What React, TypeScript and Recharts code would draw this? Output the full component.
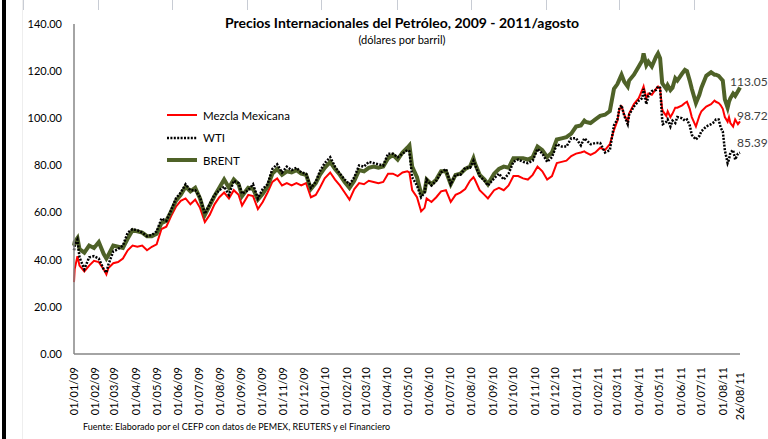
import { LineChart, Line, XAxis, YAxis } from "recharts";

const FONT = "Lato, 'Open Sans', sans-serif";

const dates = [
  "2009-01-01", "2009-01-02", "2009-01-06", "2009-01-09", "2009-01-16", "2009-01-23", "2009-01-30",
  "2009-02-06", "2009-02-13", "2009-02-17", "2009-02-20", "2009-02-27",
  "2009-03-06", "2009-03-13", "2009-03-20", "2009-03-27",
  "2009-04-03", "2009-04-10", "2009-04-17", "2009-04-24",
  "2009-05-01", "2009-05-08", "2009-05-15", "2009-05-22", "2009-05-29",
  "2009-06-05", "2009-06-12", "2009-06-19", "2009-06-26",
  "2009-07-03", "2009-07-10", "2009-07-17", "2009-07-24", "2009-07-31",
  "2009-08-07", "2009-08-14", "2009-08-21", "2009-08-28",
  "2009-09-02", "2009-09-11", "2009-09-18", "2009-09-25",
  "2009-10-02", "2009-10-09", "2009-10-16", "2009-10-23", "2009-10-30",
  "2009-11-06", "2009-11-13", "2009-11-20", "2009-11-27",
  "2009-12-04", "2009-12-11", "2009-12-18", "2009-12-24", "2009-12-31",
  "2010-01-08", "2010-01-15", "2010-01-22", "2010-01-29",
  "2010-02-05", "2010-02-12", "2010-02-19", "2010-02-26",
  "2010-03-05", "2010-03-12", "2010-03-19", "2010-03-26",
  "2010-04-02", "2010-04-09", "2010-04-16", "2010-04-23", "2010-04-30",
  "2010-05-03", "2010-05-07", "2010-05-14", "2010-05-20", "2010-05-25", "2010-05-28",
  "2010-06-04", "2010-06-11", "2010-06-18", "2010-06-25",
  "2010-07-02", "2010-07-09", "2010-07-16", "2010-07-23", "2010-07-30",
  "2010-08-04", "2010-08-06", "2010-08-13", "2010-08-20", "2010-08-25",
  "2010-09-03", "2010-09-10", "2010-09-17", "2010-09-24",
  "2010-10-01", "2010-10-08", "2010-10-15", "2010-10-22", "2010-10-29",
  "2010-11-05", "2010-11-12", "2010-11-19", "2010-11-26",
  "2010-12-03", "2010-12-10", "2010-12-17", "2010-12-24", "2010-12-31",
  "2011-01-07", "2011-01-12", "2011-01-14", "2011-01-21", "2011-01-28",
  "2011-02-04", "2011-02-11", "2011-02-18", "2011-02-24",
  "2011-03-01", "2011-03-04", "2011-03-07", "2011-03-11", "2011-03-16", "2011-03-18", "2011-03-25",
  "2011-04-01", "2011-04-06", "2011-04-08", "2011-04-12", "2011-04-15", "2011-04-20", "2011-04-26", "2011-04-29",
  "2011-05-02", "2011-05-05", "2011-05-06", "2011-05-11", "2011-05-13", "2011-05-17", "2011-05-20", "2011-05-24", "2011-05-27",
  "2011-06-03", "2011-06-07", "2011-06-10", "2011-06-14", "2011-06-17", "2011-06-23", "2011-06-28",
  "2011-07-01", "2011-07-08", "2011-07-15", "2011-07-20", "2011-07-22", "2011-07-26", "2011-07-29",
  "2011-08-01", "2011-08-04", "2011-08-08", "2011-08-10", "2011-08-12", "2011-08-16", "2011-08-19", "2011-08-23", "2011-08-26",
];

const mezcla = [
  30.5, 36, 41.5, 37.5, 35, 37.5, 39.5,
  39, 36, 33.8, 36.5, 38.5,
  39, 40.5, 44, 46,
  45.5, 46, 44, 45.5,
  46.5, 53, 54, 58.5, 62.5,
  65, 66, 63.5, 65.5,
  62, 56, 59, 63.5, 66.5,
  68.5, 66, 69.5, 67.5,
  63, 67.5, 67, 61.5,
  64.5, 68.5, 73, 74.5, 71.5,
  72.5, 71.5, 72.5, 71.5,
  72.5, 66.5, 67.5, 70.5, 74.5,
  77, 74, 71.5, 68.5,
  65.5, 70, 72.5, 72,
  73.5, 73, 72.5, 73,
  76.5, 76.5, 75.5, 77, 77.5,
  77, 69.5, 66.5, 60.5, 62, 66,
  64.5, 66.5, 69, 69.5,
  64.5, 67.5, 68.5, 70, 73.5,
  75, 74, 69.5, 67.5, 66,
  69.5, 70.5, 69.5, 71.5,
  75.5, 75.5, 74.5, 74, 76,
  79.5, 77.5, 74, 75.5,
  81, 81.5, 82, 84, 85,
  85.5, 86, 85.5, 84.5, 85.5,
  87.5, 86.5, 89, 95,
  99, 104, 105, 101.5, 98.5, 102, 106,
  108.5, 112, 113.5, 108.5, 110.5, 110, 112.5, 113.5,
  112.5, 104, 103, 101, 103, 100.5, 102, 104.5, 104.5,
  105.5, 106.5, 107, 104, 100.5, 96.5, 101,
  103, 105, 106, 107.5, 107, 106.5, 105.5,
  104, 100.5, 98.5, 100.5, 98, 96.5, 99.5, 97.5, 98.72,
];

const wti = [
  44, 46, 48.5, 41, 36, 41, 41.5,
  40.5, 36, 34.5, 38, 43.5,
  44.5, 46, 51.5, 53,
  52.5, 51.5, 50, 50.5,
  52, 57.5, 56.5, 61, 66,
  68.5, 72, 69.5, 69.5,
  66.5, 59.5, 63.5, 67.5, 69.5,
  71, 67.5, 73.5, 72.5,
  68, 69.5, 72, 66,
  70, 72, 78.5, 80.5, 77,
  79.5, 78, 79, 77,
  76.5, 70.5, 73, 77.5, 81,
  83.5, 79.5, 76.5, 74,
  72, 75, 80, 79.5,
  81.5, 81, 80.5, 80,
  85, 85, 83.5, 85, 86.5,
  86, 75, 71.5, 66.5, 68.5, 74,
  71.5, 73.5, 77, 78.5,
  72, 76, 76, 79, 79,
  82, 80.5, 75.5, 73.5, 71.5,
  74.5, 76.5, 74, 76.5,
  81.5, 82.5, 81.5, 81, 82,
  87, 85, 81.5, 83.5,
  89, 88, 88, 91.5, 91.5,
  88.5, 91.5, 91, 89, 89.5,
  89.5, 85.5, 86.5, 97,
  99.5, 104.5, 105.5, 101, 97.5, 101.5, 105,
  107.5, 108.5, 112.5, 106, 109.5, 111.5, 112, 113.5,
  113, 99.5, 97.5, 98.5, 99.5, 96.5, 99, 98, 100.5,
  100, 99, 99.5, 97, 93, 91, 92.5,
  94.5, 96.5, 97.5, 98.5, 99.5, 99.5, 96,
  94.5, 86.5, 81, 82.5, 85.5, 86.5, 82.5, 85, 85.39,
];

const brent = [
  46, 47.5, 49.2, 44.5, 43, 46, 45,
  47.5, 42.5, 40.5, 42, 46,
  45.5, 45, 49, 52.5,
  52, 51.5, 50, 50,
  51, 55.5, 56.5, 60.5, 65,
  67.5, 71, 69, 70.5,
  66, 59, 63, 67, 70.5,
  74, 70.5, 74, 72,
  67, 70.5, 70, 65.5,
  68, 71, 76.5, 78.5, 76,
  77.5, 77, 78, 76.5,
  76, 70, 72.5, 76, 79,
  81.5, 78.5, 76, 73,
  70.5, 73.5, 78, 77.5,
  79, 79.5, 79, 79.5,
  83, 84.5, 82.5, 85.5, 87.5,
  88.5, 79.5, 75, 68, 69, 74,
  72, 74, 77.5, 77.5,
  72, 76, 76.5, 78.5, 79.5,
  83, 81, 76, 74, 72,
  76.5, 78.5, 79.5, 79,
  83, 83, 83, 82.5, 83.5,
  88, 86.5, 83.5, 85.5,
  91, 91.5, 92, 93.5, 96.5,
  97, 99, 98.5, 98, 99.5,
  101, 101.5, 103, 112.5,
  114.5, 116.5, 118.5, 115.5, 113.5, 116, 118.5,
  122, 124.5, 127.5, 122.5, 124, 122, 126, 127.5,
  125.5, 115, 114.5, 112.5, 114, 112, 113, 117, 116,
  119, 120.5, 120, 116, 112.5, 106.5, 110,
  113, 118, 119.5, 118.5, 118.5, 118, 117,
  116, 108, 104.5, 107, 108.5, 110.5, 109.5, 111.5, 113.05,
];

const yTicks = [0, 20, 40, 60, 80, 100, 120, 140];

const xTickDates = [
  "2009-01-01", "2009-02-01", "2009-03-01", "2009-04-01", "2009-05-01", "2009-06-01",
  "2009-07-01", "2009-08-01", "2009-09-01", "2009-10-01", "2009-11-01", "2009-12-01",
  "2010-01-01", "2010-02-01", "2010-03-01", "2010-04-01", "2010-05-01", "2010-06-01",
  "2010-07-01", "2010-08-01", "2010-09-01", "2010-10-01", "2010-11-01", "2010-12-01",
  "2011-01-01", "2011-02-01", "2011-03-01", "2011-04-01", "2011-05-01", "2011-06-01",
  "2011-07-01", "2011-08-01", "2011-08-26",
];

const legendItems = [
  { name: "Mezcla Mexicana", color: "#ff0000", width: 2, dash: undefined },
  { name: "WTI", color: "#000000", width: 2.5, dash: "2 1.4" },
  { name: "BRENT", color: "#4f6228", width: 4, dash: undefined },
];

const START = Date.UTC(2009, 0, 1);
const toDay = (iso: string) => {
  const [y, m, d] = iso.split("-").map(Number);
  return (Date.UTC(y, m - 1, d) - START) / 86400000;
};
const fmtDate = (iso: string) => {
  const [y, m, d] = iso.split("-");
  return `${d}/${m}/${y.slice(2)}`;
};

const data = dates.map((d, i) => ({
  t: toDay(d),
  mezcla: mezcla[i],
  wti: wti[i],
  brent: brent[i],
}));

const xTicks = xTickDates.map(toDay);
const lastTick = xTicks[xTicks.length - 1];
const labelByDay: Record<number, string> = {};
xTickDates.forEach((d) => (labelByDay[toDay(d)] = fmtDate(d)));

const DateTick = ({ x, y, payload }: any) => (
  <g transform={`translate(${x},${y + (payload.value === lastTick ? 5 : 0)})`}>
    <text
      transform="rotate(-90)"
      textAnchor="end"
      dy="0.35em"
      fill="#000"
      fontSize={11}
      fontFamily={FONT}
    >
      {labelByDay[payload.value]}
    </text>
  </g>
);

const endLabel = (dx: number, dy: number) => (props: any) => {
  const { x, y, index, value } = props;
  if (index !== dates.length - 1) return null;
  return (
    <text x={x + dx} y={y + dy} fill="#404040" fontSize={12} fontFamily={FONT}>
      {Number(value).toFixed(2)}
    </text>
  );
};

const topCellLines = [23, 98, 172, 247, 321, 397, 471, 546, 619, 694];

export default function App() {
  return (
    <div
      style={{
        position: "fixed",
        top: 0,
        left: 0,
        width: 768,
        height: 439,
        background: "#fff",
        fontFamily: FONT,
        overflow: "hidden",
      }}
    >
      {topCellLines.map((x) => (
        <div key={x} style={{ position: "absolute", left: x, top: 0, width: 1, height: 10, background: "#c8ccd4" }} />
      ))}
      <div style={{ position: "absolute", left: 22, top: 0, width: 1, height: 439, background: "#eeeeee" }} />
      <div style={{ position: "absolute", left: 2, top: 0, width: 4, height: 439, background: "#000" }} />

      <LineChart
        width={768}
        height={439}
        data={data}
        margin={{ top: 24, right: 28, bottom: 10, left: 14 }}
      >
        <XAxis
          dataKey="t"
          type="number"
          domain={[0, lastTick]}
          ticks={xTicks}
          interval={0}
          tick={<DateTick />}
          tickLine={false}
          tickSize={0}
          tickMargin={13}
          height={75}
          axisLine={{ stroke: "#868686", strokeWidth: 1.5 }}
        />
        <YAxis
          type="number"
          domain={[0, 140]}
          ticks={yTicks}
          interval={0}
          tickFormatter={(v: number) => v.toFixed(2)}
          tick={{ fill: "#000", fontSize: 11, fontFamily: FONT }}
          tickLine={false}
          tickSize={6}
          tickMargin={6}
          width={60}
          axisLine={{ stroke: "#868686", strokeWidth: 1.5 }}
        />
        <Line
          dataKey="mezcla"
          stroke="#ff0000"
          strokeWidth={2}
          dot={false}
          isAnimationActive={false}
          label={endLabel(-3, -1)}
        />
        <Line
          dataKey="brent"
          stroke="#4f6228"
          strokeWidth={4}
          dot={false}
          isAnimationActive={false}
          label={endLabel(-10, -1.5)}
        />
        <Line
          dataKey="wti"
          stroke="#000"
          strokeWidth={2.5}
          strokeDasharray="2 1.4"
          dot={false}
          isAnimationActive={false}
          label={endLabel(-3, -6)}
        />
      </LineChart>

      <div
        style={{
          position: "absolute",
          left: 402,
          top: 15,
          transform: "translateX(-50%)",
          whiteSpace: "nowrap",
          fontWeight: 700,
          fontSize: 14,
          lineHeight: "16px",
          color: "#000",
        }}
      >
        Precios Internacionales del Petróleo, 2009 - 2011/agosto
      </div>
      <div
        style={{
          position: "absolute",
          left: 402,
          top: 33,
          transform: "translateX(-50%)",
          whiteSpace: "nowrap",
          fontSize: 11,
          lineHeight: "14px",
          color: "#000",
        }}
      >
        (dólares por barril)
      </div>

      {legendItems.map((it, i) => (
        <div
          key={it.name}
          style={{ position: "absolute", left: 166, top: 107 + i * 22.5, height: 16, display: "flex", alignItems: "center" }}
        >
          <svg width={32} height={16}>
            <line x1={1} y1={8} x2={31} y2={8} stroke={it.color} strokeWidth={it.width} strokeDasharray={it.dash} />
          </svg>
          <span style={{ marginLeft: 5, fontSize: 11.5, color: "#000" }}>{it.name}</span>
        </div>
      ))}

      <div
        style={{
          position: "absolute",
          left: 83,
          top: 421,
          fontSize: 9,
          lineHeight: "12px",
          whiteSpace: "nowrap",
          color: "#000",
        }}
      >
        Fuente: Elaborado por el CEFP con datos de PEMEX, REUTERS y el Financiero
      </div>
    </div>
  );
}
